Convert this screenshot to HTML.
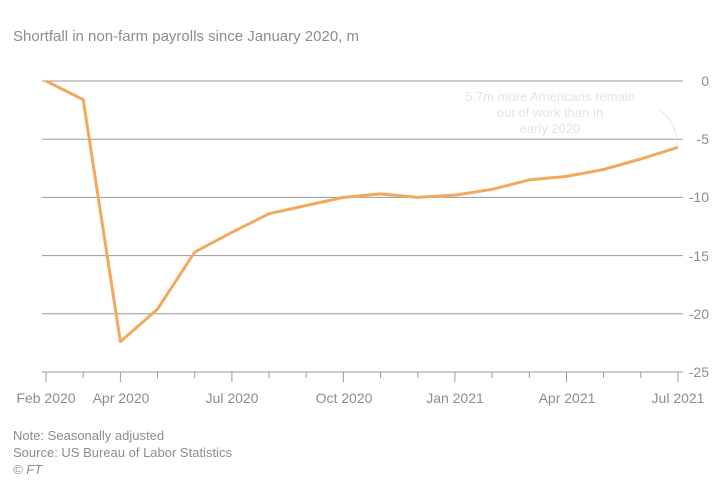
<!DOCTYPE html>
<html><head><meta charset="utf-8"><style>
body{margin:0;background:#fff;}
svg{display:block;font-family:"Liberation Sans",sans-serif;}
</style></head><body>
<svg width="726" height="489" viewBox="0 0 726 489">
<text x="13" y="41" font-size="15" fill="#898d93">Shortfall in non-farm payrolls since January 2020, m</text>
<g stroke="#9a9a9a" stroke-width="1">
<line x1="42" y1="81" x2="683" y2="81"/>
<line x1="42" y1="139.2" x2="683" y2="139.2"/>
<line x1="42" y1="197.4" x2="683" y2="197.4"/>
<line x1="42" y1="255.6" x2="683" y2="255.6"/>
<line x1="42" y1="313.8" x2="683" y2="313.8"/>
<line x1="42" y1="372" x2="683" y2="372"/>
</g>
<g font-size="14" fill="#898d93" text-anchor="end">
<text x="709" y="86">0</text>
<text x="709" y="144">-5</text>
<text x="709" y="202">-10</text>
<text x="709" y="261">-15</text>
<text x="709" y="319">-20</text>
<text x="709" y="377">-25</text>
</g>
<g stroke="#9a9a9a" stroke-width="1">
<line x1="46" y1="372" x2="46" y2="382"/>
<line x1="83.2" y1="372" x2="83.2" y2="378"/>
<line x1="120.4" y1="372" x2="120.4" y2="382"/>
<line x1="157.5" y1="372" x2="157.5" y2="378"/>
<line x1="194.7" y1="372" x2="194.7" y2="378"/>
<line x1="231.9" y1="372" x2="231.9" y2="382"/>
<line x1="269.1" y1="372" x2="269.1" y2="378"/>
<line x1="306.2" y1="372" x2="306.2" y2="378"/>
<line x1="343.4" y1="372" x2="343.4" y2="382"/>
<line x1="380.6" y1="372" x2="380.6" y2="378"/>
<line x1="417.8" y1="372" x2="417.8" y2="378"/>
<line x1="454.9" y1="372" x2="454.9" y2="382"/>
<line x1="492.1" y1="372" x2="492.1" y2="378"/>
<line x1="529.3" y1="372" x2="529.3" y2="378"/>
<line x1="566.5" y1="372" x2="566.5" y2="382"/>
<line x1="603.6" y1="372" x2="603.6" y2="378"/>
<line x1="640.8" y1="372" x2="640.8" y2="378"/>
<line x1="678" y1="372" x2="678" y2="382"/>
</g>
<g font-size="14" fill="#898d93" text-anchor="middle">
<text x="46" y="403">Feb 2020</text>
<text x="121" y="403">Apr 2020</text>
<text x="232" y="403">Jul 2020</text>
<text x="344" y="403">Oct 2020</text>
<text x="455" y="403">Jan 2021</text>
<text x="567" y="403">Apr 2021</text>
<text x="678" y="403">Jul 2021</text>
</g>
<g font-size="13" fill="#e4e4e4" text-anchor="middle">
<text x="550" y="101">5.7m more Americans remain</text>
<text x="550" y="117">out of work than in</text>
<text x="550" y="133">early 2020</text>
</g>
<path d="M660,110 Q678,125 677,145" fill="none" stroke="#e6e6e6" stroke-width="1"/>
<polyline fill="none" stroke="#f2a95e" stroke-width="3" stroke-linejoin="round" points="46,81 83.2,99.6 120.4,341.7 157.5,309.1 194.7,252.1 231.9,232.3 269.1,213.7 306.2,205.5 343.4,197.4 380.6,193.9 417.8,197.4 454.9,195.1 492.1,189.3 529.3,179.9 566.5,176.4 603.6,169.5 640.8,159 678,147.3"/>
<g font-size="13" fill="#898d93">
<text x="13" y="440">Note: Seasonally adjusted</text>
<text x="13" y="457">Source: US Bureau of Labor Statistics</text>
<text x="13" y="474" font-style="italic">© FT</text>
</g>
</svg>
</body></html>
